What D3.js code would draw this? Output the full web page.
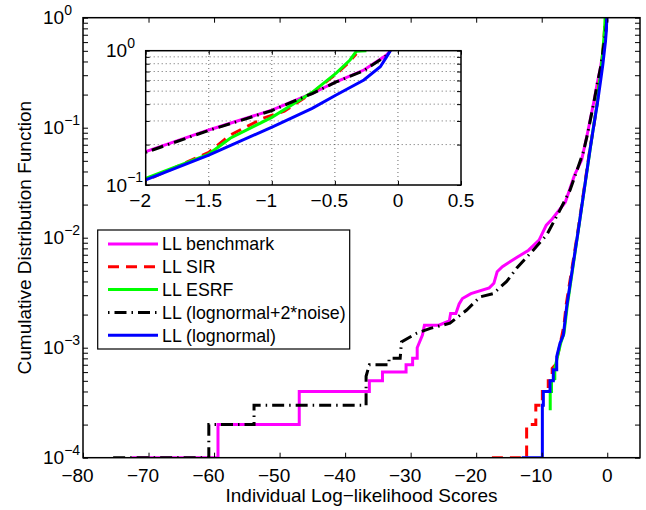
<!DOCTYPE html>
<html>
<head>
<meta charset="utf-8">
<style>
  body { margin: 0; background: #fff; }
  text { font-family: "Liberation Sans", Arial, Helvetica, sans-serif; fill: #000; }
</style>
</head>
<body>
<svg id="chart"></svg>

<script src="https://cdn.jsdelivr.net/npm/d3@7"></script>
<script>
// each series is a list of [score, cdf]
var benchmark = [[-72.6,1e-4],[-59.4,1e-4],[-59.4,2e-4],[-47,2e-4],[-47,4e-4],[-36.3,4e-4],[-36.3,5e-4],
  [-34.3,5e-4],[-34.3,6e-4],[-30.7,6e-4],[-30.7,7e-4],[-29.7,7e-4],[-29.7,8e-4],[-29.0,8e-4],[-29.0,1e-3],
  [-28.2,1.3e-3],[-27.9,1.6e-3],[-25.7,1.6e-3],[-24.1,1.75e-3],[-23.9,2.05e-3],[-23.1,2.05e-3],[-22.6,2.5e-3],
  [-22.1,2.8e-3],[-20.8,3.1e-3],[-18.0,3.5e-3],[-17.3,3.85e-3],[-16.8,4.9e-3],[-16.0,5.45e-3],[-14.0,6.5e-3],
  [-12.0,7.7e-3],[-10.4,9.5e-3],[-9.3,0.013],[-8.4,0.0148],[-6.4,0.021],[-5.0,0.037],[-3.9,0.051],[-3.0,0.09],
  [-2.0,0.177],[-1.5,0.257],[-1.0,0.361],[-0.68,0.482],[-0.49,0.587],[-0.27,0.718],[-0.09,0.929],[-0.06,1.0]]

var sir = [[-17.6,1e-4],[-12.3,1e-4],[-12.3,2e-4],[-10.9,2e-4],[-10.9,3e-4],[-9.9,3e-4],[-9.9,4e-4],[-9.0,4e-4],
  [-9.0,5e-4],[-8.4,5e-4],[-8.4,6.5e-4],[-7.9,7e-4],[-7.3,1.0e-3],[-6.6,1.6e-3],[-6.25,2.5e-3],[-4.45,0.0118],
  [-2.65,0.064],[-2.0,0.108],[-1.5,0.175],[-1.33,0.235],[-1.2,0.272],[-1.07,0.314],[-0.9,0.355],[-0.68,0.485],
  [-0.49,0.67],[-0.4,0.8],[-0.33,0.95]]

var esrf = [[-8.7,2.7e-4],[-8.7,4e-4],[-8.5,4e-4],[-8.5,5e-4],[-8.0,5.2e-4],[-8.0,6.5e-4],[-7.55,8.5e-4],
  [-7.1,1.1e-3],[-6.6,1.35e-3],[-6.1,2.4e-3],[-4.4,0.0118],[-2.6,0.064],[-2.0,0.112],[-1.5,0.17],[-1.33,0.223],
  [-1.0,0.319],[-0.68,0.49],[-0.49,0.68],[-0.38,0.853],[-0.33,0.99],[-0.25,1.0]]

var noisy = [[-75.4,1e-4],[-60.8,1e-4],[-60.8,2e-4],[-53.9,2e-4],[-53.9,3e-4],[-36.8,3e-4],[-36.8,5.5e-4],
  [-36.3,7e-4],[-33.3,7e-4],[-33.3,8e-4],[-31.6,8e-4],[-31.4,1.13e-3],[-29.1,1.35e-3],[-27.0,1.5e-3],
  [-24.0,1.67e-3],[-21.45,2.2e-3],[-19.4,2.9e-3],[-17.4,3.1e-3],[-15.35,4e-3],[-13.8,5.3e-3],[-11.3,7.7e-3],
  [-9.24,0.0106],[-7.2,0.0179],[-5.68,0.027],[-3.65,0.06],[-3.0,0.088],[-2.0,0.175],[-1.5,0.255],[-1.0,0.358],
  [-0.68,0.48],[-0.49,0.585],[-0.27,0.71],[-0.09,0.92],[-0.06,1.0]]

var lognormal = [[-13.05,1e-4],[-9.9,1e-4],[-9.9,3e-4],[-9.75,3e-4],[-9.75,4e-4],[-8.73,4e-4],[-8.73,5e-4],
  [-8.23,5e-4],[-8.23,6.3e-4],[-7.71,6.3e-4],[-7.71,8.3e-4],[-7.21,1.1e-3],[-6.7,1.3e-3],[-6.19,2.36e-3],
  [-4.42,0.0117],[-2.63,0.063],[-2.0,0.109],[-1.5,0.167],[-0.99,0.272],[-0.68,0.372],[-0.49,0.468],
  [-0.27,0.605],[-0.14,0.76],[-0.09,0.90],[-0.06,1.0]]

var seriesNames = ["LL benchmark", "LL SIR", "LL ESRF", "LL (lognormal+2*noise)", "LL (lognormal)"]
var xTicks = [-80, -70, -60, -50, -40, -30, -20, -10, 0]
var yDecades = [-4, -3, -2, -1, 0]
var insetXTicks = [-2, -1.5, -1, -0.5, 0, 0.5]
var insetYDecades = [-1, 0]

var styles = [
  { color: "#ff00ff", dash: null },
  { color: "#ff0000", dash: "11,7" },
  { color: "#00ff00", dash: null },
  { color: "#000000", dash: "12,5,1.5,5" },
  { color: "#0000ff", dash: null }
]
var allSeries = [benchmark, sir, esrf, noisy, lognormal]

var width = 646, height = 510
var svg = d3.select('#chart').attr('width', width).attr('height', height)

function minorTicks(decades) {
  var t = []
  for (var i = 0; i < decades.length - 1; i++)
    for (var k = 1; k < 10; k++) t.push(k * Math.pow(10, decades[i]))
  t.push(Math.pow(10, decades[decades.length - 1]))
  return t
}

function drawPanel(g, x, y, xt, yd, opts) {
  var x0 = x.range()[0], x1 = x.range()[1], y0 = y.range()[0], y1 = y.range()[1]
  var clipId = 'clip' + opts.id
  svg.append('clipPath').attr('id', clipId).append('rect')
    .attr('x', x0).attr('y', y1).attr('width', x1 - x0).attr('height', y0 - y1)

  g.append('rect').attr('x', x0).attr('y', y1).attr('width', x1 - x0).attr('height', y0 - y1)
    .attr('fill', '#fff')

  if (opts.grid) {
    var gx = xt.filter(function(v) { return v > x.domain()[0] && v < x.domain()[1] })
    g.selectAll('.vg').data(gx).enter().append('line')
      .attr('x1', function(d) { return x(d) }).attr('x2', function(d) { return x(d) })
      .attr('y1', y0).attr('y2', y1)
      .attr('stroke', '#444').attr('stroke-width', 0.8).attr('stroke-dasharray', '1,3')
    var gy = minorTicks(yd).filter(function(v) { return v > y.domain()[0] * 1.001 && v < y.domain()[1] * 0.999 })
    g.selectAll('.hg').data(gy).enter().append('line')
      .attr('x1', x0).attr('x2', x1)
      .attr('y1', function(d) { return y(d) }).attr('y2', function(d) { return y(d) })
      .attr('stroke', '#444').attr('stroke-width', 0.8).attr('stroke-dasharray', '1,3')
  }

  var line = d3.line().x(function(d) { return x(d[0]) }).y(function(d) { return y(d[1]) })
  var curves = g.append('g').attr('clip-path', 'url(#' + clipId + ')')
  allSeries.forEach(function(s, i) {
    curves.append('path').datum(s).attr('d', line)
      .attr('fill', 'none').attr('stroke', styles[i].color).attr('stroke-width', 3)
      .attr('stroke-dasharray', styles[i].dash)
      .attr('stroke-linejoin', 'miter')
  })

  // inward ticks on all four sides
  var yt = minorTicks(yd)
  var tl = opts.tick
  g.append('g').attr('transform', 'translate(0,' + y0 + ')')
    .call(d3.axisBottom(x).tickValues(xt).tickSize(-tl).tickFormat(''))
  g.append('g').attr('transform', 'translate(0,' + y1 + ')')
    .call(d3.axisTop(x).tickValues(xt).tickSize(-tl).tickFormat(''))
  g.append('g').attr('transform', 'translate(' + x0 + ',0)')
    .call(d3.axisLeft(y).tickValues(yt).tickSize(-tl).tickFormat(''))
  g.append('g').attr('transform', 'translate(' + x1 + ',0)')
    .call(d3.axisRight(y).tickValues(yt).tickSize(-tl).tickFormat(''))
  g.selectAll('.domain').remove()
  g.selectAll('.tick line').attr('stroke', '#000').attr('stroke-width', 1)

  g.append('rect').attr('x', x0).attr('y', y1).attr('width', x1 - x0).attr('height', y0 - y1)
    .attr('fill', 'none').attr('stroke', '#000').attr('stroke-width', 1.5)

  // x tick labels: digits centred on the tick, minus hanging to the left
  g.selectAll('.xl').data(xt).enter().append('text')
    .attr('x', function(d) { return x(d) })
    .attr('dx', function(d) { return d < 0 ? -5.5 : 0 })
    .attr('y', opts.xLabelY)
    .attr('text-anchor', 'middle').attr('font-size', 19)
    .text(function(d) { return d3.format('')(d).replace('-', '\u2212') })

  // y tick labels 10^n
  yd.forEach(function(e) {
    var t = g.append('text').attr('x', opts.yLabelX).attr('y', y(Math.pow(10, e)) + 6.7)
      .attr('font-size', 19)
    t.append('tspan').text('10')
    t.append('tspan').attr('dy', -9.4).attr('font-size', 14).text(String(e).replace('-', '\u2212'))
  })
}

// main panel
var x = d3.scaleLinear().domain([-80, 5]).range([83, 640])
var y = d3.scaleLog().domain([1e-4, 1]).range([457.7, 17.7])
drawPanel(svg.append('g'), x, y, xTicks, yDecades, { id: 'main', tick: 5, xLabelY: 482, yLabelX: 43 })

svg.append('text').attr('x', (83 + 640) / 2).attr('y', 501.5)
  .attr('text-anchor', 'middle').attr('font-size', 19)
  .text('Individual Log\u2212likelihood Scores')
svg.append('text').attr('transform', 'translate(31,' + (457.7 + 17.7) / 2 + ') rotate(-90)')
  .attr('text-anchor', 'middle').attr('font-size', 19)
  .text('Cumulative Distribution Function')

// inset panel
var xi = d3.scaleLinear().domain([-2, 0.5]).range([145.7, 461])
var yi = d3.scaleLog().domain([0.1, 1]).range([185, 50.7])
drawPanel(svg.append('g'), xi, yi, insetXTicks, insetYDecades, { id: 'inset', tick: 4, grid: true, xLabelY: 206.7, yLabelX: 106 })

// legend
var lg = svg.append('g')
lg.append('rect').attr('x', 97.7).attr('y', 230).attr('width', 252).attr('height', 119)
  .attr('fill', '#fff').attr('stroke', '#000').attr('stroke-width', 1.2)
seriesNames.forEach(function(name, i) {
  var yy = 244 + i * 22.8
  lg.append('line').attr('x1', 108).attr('x2', 158).attr('y1', yy).attr('y2', yy)
    .attr('stroke', styles[i].color).attr('stroke-width', 3)
    .attr('stroke-dasharray', styles[i].dash)
    .attr('stroke-dashoffset', i === 3 ? 17 : 0)
  lg.append('text').attr('x', 162).attr('y', yy + 6.3).attr('font-size', 17.8).text(name)
})
</script>
</body>
</html>
